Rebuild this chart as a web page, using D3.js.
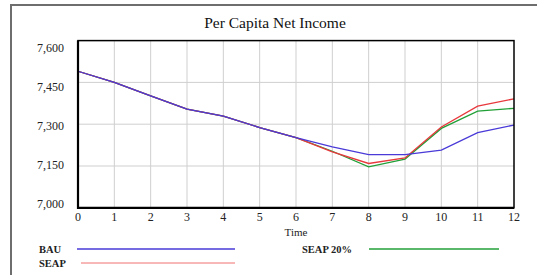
<!DOCTYPE html>
<html>
<head>
<meta charset="utf-8">
<script src="https://cdn.jsdelivr.net/npm/d3@7"></script>
<style>
html,body{margin:0;padding:0;background:#fff;}
svg{display:block;}
svg text{font-family:"Liberation Serif","Times New Roman",Times,"DejaVu Serif",serif;}
</style>
</head>
<body>
<svg id="chart" width="537" height="275"></svg>
<script>
const times = [0,1,2,3,4,5,6,7,8,9,10,11,12];
const bau     = [7490, 7450, 7402, 7354, 7329, 7288, 7252, 7219, 7191, 7191, 7207, 7270, 7297];
const seap    = [7490, 7450, 7402, 7354, 7329, 7288, 7252, 7201, 7159, 7179, 7290, 7365, 7391];
const seap20  = [7490, 7450, 7402, 7354, 7329, 7288, 7252, 7203, 7147, 7175, 7285, 7347, 7357];
const yTicks = [7000, 7150, 7300, 7450, 7600];
const yTickLabels = ["7,000", "7,150", "7,300", "7,450", "7,600"];
const seriesNames = ["BAU", "SEAP", "SEAP 20%"];
const seriesColors = ["#4a3ad8", "#e8383c", "#22a038"];

const svg = d3.select("#chart");

// outer frame
svg.append("rect").attr("x", 11).attr("y", 5).attr("width", 620).attr("height", 400)
  .attr("fill", "none").attr("stroke", "#6e6e6e").attr("stroke-width", 2);

const L = 78, R = 514, T = 40.6, B = 207.8;
const x = d3.scaleLinear().domain([0, 12]).range([L, R]);
const y = d3.scaleLinear().domain([7000, 7600]).range([B, T]);
// Vensim places value labels on their own evenly spaced positions
const yLab = d3.scaleLinear().domain([7000, 7600]).range([203.5, 48]);

// title
svg.append("text").attr("x", 275).attr("y", 28).attr("text-anchor", "middle")
  .attr("font-size", 15.5).attr("fill", "#111")
  .text("Per Capita Net Income");

// grid
const g = svg.append("g");
g.selectAll("line.vg").data(times.slice(1, -1)).join("line")
  .attr("x1", d => x(d)).attr("x2", d => x(d)).attr("y1", T).attr("y2", B)
  .attr("stroke", "#cfcfcf").attr("stroke-width", 1);
g.selectAll("line.hg").data(yTicks.slice(1, -1)).join("line")
  .attr("x1", L).attr("x2", R).attr("y1", d => y(d)).attr("y2", d => y(d))
  .attr("stroke", "#cfcfcf").attr("stroke-width", 1);

// y labels
svg.selectAll("text.yl").data(yTicks).join("text")
  .attr("x", 64).attr("y", d => yLab(d)).attr("dy", "0.35em")
  .attr("text-anchor", "end").attr("font-size", 12)
  .attr("fill", "#222").text((d, i) => yTickLabels[i]);

// x labels
svg.selectAll("text.xl").data(times).join("text")
  .attr("x", d => x(d)).attr("y", 217).attr("dy", "0.35em")
  .attr("text-anchor", "middle").attr("font-size", 12)
  .attr("fill", "#222").text(d => d);

svg.append("text").attr("x", 296).attr("y", 232).attr("dy", "0.35em")
  .attr("text-anchor", "middle").attr("font-size", 11)
  .attr("fill", "#222").text("Time");

// lines
const line = d3.line().x((d, i) => x(times[i])).y(d => y(d));
const data = [bau, seap, seap20];
[2, 1, 0].forEach(k => {
  svg.append("path").datum(data[k]).attr("d", line)
    .attr("fill", "none").attr("stroke", seriesColors[k]).attr("stroke-width", 1.3);
});

// plot frame
svg.append("rect").attr("x", L).attr("y", T).attr("width", R - L).attr("height", B - T)
  .attr("fill", "none").attr("stroke", "#000").attr("stroke-width", 1.5);
svg.append("path").attr("d", `M${L},${T}V${B}H${R}`)
  .attr("fill", "none").attr("stroke", "#000").attr("stroke-width", 2.2);

// legend
const leg = [
  {name: seriesNames[0], tx: 39, ty: 249, x1: 77, x2: 235, color: seriesColors[0], w: 1.3},
  {name: seriesNames[1], tx: 39, ty: 263, x1: 81, x2: 235, color: "#f07070", w: 1},
  {name: seriesNames[2], tx: 302, ty: 249, x1: 369, x2: 499, color: seriesColors[2], w: 1.3}
];
leg.forEach(d => {
  svg.append("text").attr("x", d.tx).attr("y", d.ty).attr("dy", "0.35em")
    .attr("font-weight", "bold").attr("font-size", 10.5)
    .attr("fill", "#222").text(d.name);
  svg.append("line").attr("x1", d.x1).attr("x2", d.x2).attr("y1", d.ty).attr("y2", d.ty)
    .attr("stroke", d.color).attr("stroke-width", d.w);
});
</script>
</body>
</html>
